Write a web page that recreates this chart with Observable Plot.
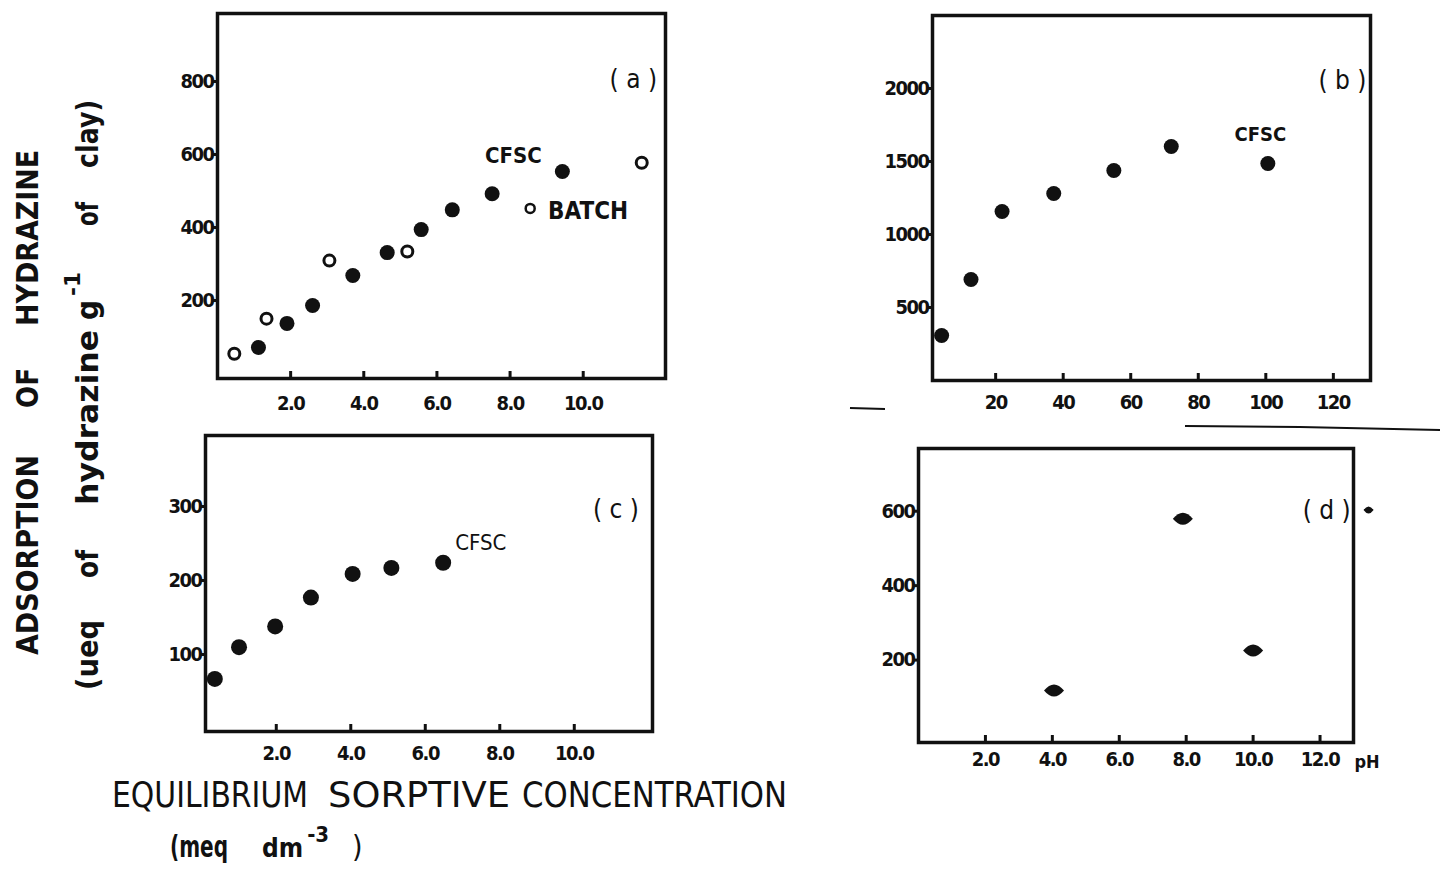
<!DOCTYPE html>
<html><head><meta charset="utf-8">
<script src="https://cdn.jsdelivr.net/npm/d3@7"></script>
<script src="https://cdn.jsdelivr.net/npm/@observablehq/plot@0.6"></script>
<style>
body{margin:0;background:#fff;width:1440px;height:870px;overflow:hidden;position:relative;}
.panel{position:absolute;}
.panel svg g[aria-label="x-axis tick label"] text{letter-spacing:-1.5px;}
.panel svg g[aria-label="y-axis tick label"] text{letter-spacing:-1.5px;}
#titles{position:absolute;left:0;top:0;pointer-events:none;}
</style></head><body>
<div id="pa" class="panel" style="left:150px;top:0px"></div>
<div id="pb" class="panel" style="left:860px;top:0px"></div>
<div id="pc" class="panel" style="left:150px;top:420px"></div>
<div id="pd" class="panel" style="left:860px;top:430px"></div>
<svg id="titles" width="1440" height="870"></svg>
<script>
// ---- data ----
// (a) adsorption vs equilibrium concentration, CFSC (filled) and BATCH (open)
const aCfscX = [1.12, 1.9, 2.6, 3.7, 4.64, 5.57, 6.42, 7.51, 9.43];
const aCfscY = [85, 151, 200, 282, 345, 408, 462, 506, 567];
const aBatchX = [0.46, 1.34, 3.06, 5.19, 11.6];
const aBatchY = [68, 164, 323, 348, 591];
const aXTicks = [2, 4, 6, 8, 10];
const aYTicks = [200, 400, 600, 800];
// (b)
const bX = [4, 12.7, 21.9, 37.2, 55, 72, 100.6];
const bY = [308, 692, 1158, 1281, 1438, 1603, 1486];
const bXTicks = [20, 40, 60, 80, 100, 120];
const bYTicks = [500, 1000, 1500, 2000];
// (c)
const cX = [0.35, 1.0, 1.97, 2.93, 4.05, 5.09, 6.48];
const cY = [71, 114, 142, 181, 213, 221, 228];
const cXTicks = [2, 4, 6, 8, 10];
const cYTicks = [100, 200, 300];
// (d) adsorption vs pH
const dPH = [4.05, 7.9, 10.0];
const dY = [140, 601, 247];
const dMarkPH = [13.45];
const dMarkY = [625];
const dXTicks = [2, 4, 6, 8, 10, 12];
const dYTicks = [200, 400, 600];

const FONT = '"DejaVu Sans Condensed","DejaVu Sans",sans-serif';
const INK = "#111";
const zip = (xs, ys) => xs.map((x, i) => ({x, y: ys[i]}));

const lensOf = (w, h) => ({
  draw(ctx) {
    ctx.moveTo(-w, 0);
    ctx.quadraticCurveTo(0, -2 * h, w, 0);
    ctx.quadraticCurveTo(0, 2 * h, -w, 0);
    ctx.closePath();
  }
});
const lens = lensOf(10, 6);
const smallLens = lensOf(5, 3.5);

function panel(id, o) {
  const ih = o.height - o.mt - o.mb;
  const tl = (o.yDomain[1] - o.yDomain[0]) * 7 / ih;
  const p = Plot.plot({
    width: o.width, height: o.height,
    marginLeft: o.ml, marginRight: o.mr, marginTop: o.mt, marginBottom: o.mb,
    x: {domain: o.xDomain, label: null}, y: {domain: o.yDomain, label: null},
    style: {fontFamily: FONT, color: INK, background: "transparent", overflow: "visible"},
    marks: [
      Plot.ruleX(o.xTicks, {x: d => d, y1: o.yDomain[0], y2: o.yDomain[0] + tl, stroke: INK, strokeWidth: 3}),
      Plot.axisX(o.xTicks, {label: null, tickSize: 0, tickPadding: o.xPad, tickFormat: o.xFmt, fontSize: 20, fontWeight: "bold"}),
      Plot.axisY(o.yTicks, {label: null, tickSize: 5, tickPadding: -1, strokeWidth: 3, dy: o.yDy, tickFormat: d3.format("d"), fontSize: 20, fontWeight: "bold"}),
      Plot.frame({stroke: INK, strokeWidth: 3.5}),
      ...o.marks
    ]
  });
  document.getElementById(id).appendChild(p);
}

const f1 = d => d.toFixed(1);
const lbl = {fontSize: 26, fill: INK};

panel("pa", {
  width: 520, height: 420, ml: 67, mr: 5, mt: 13, mb: 42,
  xDomain: [0, 12.25], yDomain: [0, 1000], xTicks: aXTicks, yTicks: aYTicks,
  xFmt: f1, xPad: 17, yDy: -5,
  marks: [
    Plot.dot(zip(aCfscX, aCfscY), {x: "x", y: "y", r: 7.5, fill: INK}),
    Plot.dot(zip(aBatchX, aBatchY), {x: "x", y: "y", r: 5.5, stroke: INK, strokeWidth: 3, fill: "white"}),
    Plot.dot([{x: 8.55, y: 466}], {x: "x", y: "y", r: 4.5, stroke: INK, strokeWidth: 2.5, fill: "white"}),
    Plot.text(["CFSC"], {x: 8.09, y: 611, text: d => d, fontSize: 22, fontWeight: "bold", fill: INK}),
    Plot.text(["BATCH"], {x: 9.04, y: 457, text: d => d, textAnchor: "start", fontSize: 24, fontWeight: "bold", fill: INK}),
    Plot.text(["( a )"], {x: 11.37, y: 819, text: d => d, ...lbl})
  ]
});

panel("pb", {
  width: 580, height: 430, ml: 72, mr: 70, mt: 15, mb: 50,
  xDomain: [1.3, 131], yDomain: [0, 2500], xTicks: bXTicks, yTicks: bYTicks,
  xFmt: d => String(d), xPad: 14, yDy: 0,
  marks: [
    Plot.dot(zip(bX, bY), {x: "x", y: "y", r: 7.5, fill: INK}),
    Plot.text(["CFSC"], {x: 98.4, y: 1685, text: d => d, fontSize: 20, fontWeight: "bold", fill: INK}),
    Plot.text(["( b )"], {x: 122.7, y: 2055, text: d => d, ...lbl})
  ]
});

panel("pc", {
  width: 520, height: 360, ml: 55, mr: 18, mt: 15, mb: 49,
  xDomain: [0.1, 12.1], yDomain: [0, 400], xTicks: cXTicks, yTicks: cYTicks,
  xFmt: f1, xPad: 14, yDy: -3,
  marks: [
    Plot.dot(zip(cX, cY), {x: "x", y: "y", r: 8, fill: INK}),
    Plot.text(["CFSC"], {x: 7.49, y: 255, text: d => d, fontSize: 22, fill: INK}),
    Plot.text(["( c )"], {x: 11.12, y: 300, text: d => d, ...lbl})
  ]
});

panel("pd", {
  width: 580, height: 360, ml: 58, mr: 87, mt: 18, mb: 48,
  xDomain: [0, 13], yDomain: [0, 790], xTicks: dXTicks, yTicks: dYTicks,
  xFmt: f1, xPad: 9, yDy: -8,
  marks: [
    Plot.dot(zip(dPH, dY), {x: "x", y: "y", symbol: lens, fill: INK}),
    Plot.dot(zip(dMarkPH, dMarkY), {x: "x", y: "y", symbol: smallLens, fill: INK}),
    Plot.text(["( d )"], {x: 12.2, y: 623, text: d => d, ...lbl}),
    Plot.text(["pH"], {x: 13.0, y: 0, dx: 1, dy: 20, text: d => d, textAnchor: "start", fontSize: 18, fontWeight: "bold", fill: INK})
  ]
});

// ---- axis titles ----
const svg = d3.select("#titles").attr("font-family", FONT).attr("fill", INK);
function vword(x, y0, y1, text, size, weight) {
  const t = svg.append("text").attr("transform", `translate(${x},${y0}) rotate(-90)`)
    .attr("font-size", size).attr("font-weight", weight).text(text);
  if (y1 != null) t.attr("textLength", y0 - y1).attr("lengthAdjust", "spacingAndGlyphs");
}
function hword(x0, x1, y, text, size, weight) {
  const t = svg.append("text").attr("x", x0).attr("y", y)
    .attr("font-size", size).attr("font-weight", weight).text(text);
  if (x1 != null) t.attr("textLength", x1 - x0).attr("lengthAdjust", "spacingAndGlyphs");
  return t;
}
// line 1
vword(38, 655, 455, "ADSORPTION", 31, "bold");
vword(38, 408, 368, "OF", 31, "bold");
vword(38, 326, 150, "HYDRAZINE", 31, "bold");
// line 2
vword(98, 690, 620, "(ueq", 31, "bold");
vword(98, 578, 550, "of", 31, "bold");
vword(98, 505, 330, "hydrazine", 31, "bold");
vword(98, 320, null, "g", 31, "bold");
vword(80, 296, 272, "-1", 22, "bold");
vword(98, 226, 202, "of", 31, "bold");
vword(98, 168, 100, "clay)", 31, "bold");
// bottom
hword(112, 308, 807, "EQUILIBRIUM", 35, "normal");
hword(328, 510, 807, "SORPTIVE", 35, "normal");
hword(522, 787, 807, "CONCENTRATION", 35, "normal");
hword(170, 228, 857, "(meq", 30, "bold");
const unit = svg.append("text").attr("x", 262).attr("y", 857).attr("font-size", 26).attr("font-weight", "bold");
unit.append("tspan").text("dm");
unit.append("tspan").attr("dx", 4).attr("dy", -15).attr("font-size", 22).text("-3");
hword(352, null, 857, ")", 30, "normal");
// scan marks
svg.append("path").attr("d", "M1185,426 L1300,427 L1440,430").attr("stroke", INK).attr("stroke-width", 2).attr("fill", "none");
svg.append("path").attr("d", "M850,408 L885,409").attr("stroke", INK).attr("stroke-width", 2).attr("fill", "none");
</script>
</body></html>
